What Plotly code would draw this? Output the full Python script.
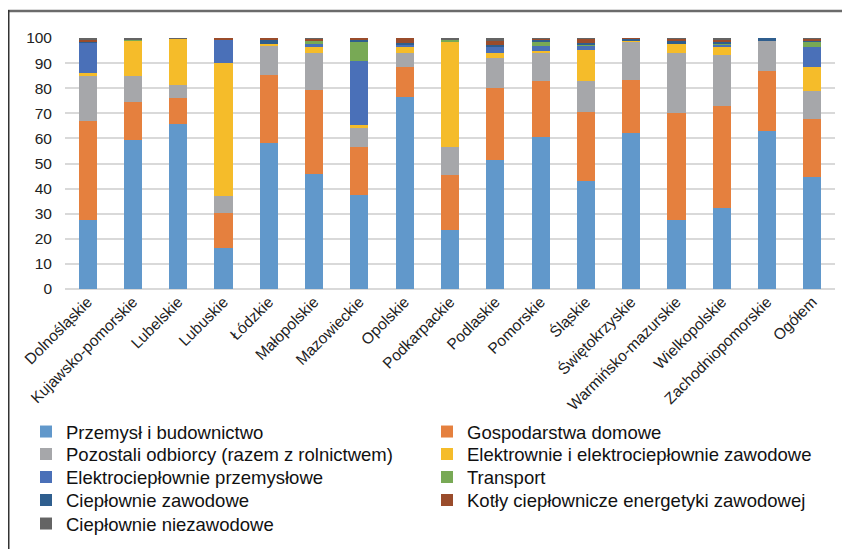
import plotly.graph_objects as go

categories = ["Dolnośląskie", "Kujawsko-pomorskie", "Lubelskie", "Lubuskie", "Łódzkie",
              "Małopolskie", "Mazowieckie", "Opolskie", "Podkarpackie", "Podlaskie",
              "Pomorskie", "Śląskie", "Świętokrzyskie", "Warmińsko-mazurskie",
              "Wielkopolskie", "Zachodniopomorskie", "Ogółem"]

przemysl =      [27.3, 59.3, 65.6, 16.4, 58.1, 45.7, 37.6, 76.5, 23.6, 51.3, 60.4, 43.1, 62.3, 27.3, 32.1, 62.9, 44.5]
gospodarstwa =  [39.5, 15.2, 10.3, 14.0, 27.1, 33.4, 19.1, 11.9, 21.7, 28.7, 22.5, 27.4, 21.0, 42.7, 40.7, 24.0, 23.2]
pozostali =     [18.0, 10.3,  5.4,  6.5, 12.0, 14.9,  7.3,  5.6, 11.4, 12.0, 11.2, 12.4, 15.4, 23.9, 20.4, 11.9, 11.0]
elektrownie =   [ 1.1, 14.1, 18.3, 53.0,  0.4,  2.8,  1.5,  2.8, 42.0,  2.1,  0.6, 12.2,  0.4,  3.8,  3.6,  0.0,  9.7]
elektro_przem = [12.2,  0.0,  0.0,  9.4,  0.0,  0.7, 25.3,  0.7,  0.0,  2.7,  2.1,  1.7,  0.0,  0.0,  0.3,  0.0,  8.0]
transport =     [ 0.0,  0.2,  0.3,  0.0,  0.0,  1.7,  7.9,  0.0,  0.4,  0.0,  1.5,  0.8,  0.0,  0.0,  0.8,  0.0,  2.3]
cieplownie_z =  [ 0.4,  0.0,  0.0,  0.0,  1.5,  0.0,  0.4,  0.6,  0.0,  0.4,  1.0,  0.5,  0.6,  1.4,  0.4,  1.2,  0.5]
kotly =         [ 0.8,  0.0,  0.0,  0.7,  0.9,  0.5,  0.9,  1.9,  0.0,  1.6,  0.5,  1.5,  0.3,  0.5,  1.0,  0.0,  0.5]
cieplownie_nz = [ 0.7,  0.9,  0.1,  0.0,  0.0,  0.3,  0.0,  0.0,  0.9,  1.2,  0.2,  0.4,  0.0,  0.4,  0.7,  0.0,  0.3]

series_names = ["Przemysł i budownictwo", "Gospodarstwa domowe",
                "Pozostali odbiorcy (razem z rolnictwem)", "Elektrownie i elektrociepłownie zawodowe",
                "Elektrociepłownie przemysłowe", "Transport",
                "Ciepłownie zawodowe", "Kotły ciepłownicze energetyki zawodowej",
                "Ciepłownie niezawodowe"]
series_values = [przemysl, gospodarstwa, pozostali, elektrownie, elektro_przem,
                 transport, cieplownie_z, kotly, cieplownie_nz]
colors = ["#6198CB", "#E5803E", "#A6A7AA", "#F5BC2A", "#4A70B8",
          "#78A955", "#2F5E8E", "#9A4C2B", "#646464"]

FONT = "Liberation Sans, Arial, sans-serif"

# figure is drawn inside the page's 8px body margin
W, H = 842, 541
L, R, T, B = 57, 15, 30, 260
pw, ph = W - L - R, H - T - B

def px_x(x):
    return (x - L) / pw

def px_y(y):
    return (H - B - y) / ph

# legend rows (two entries per row), each its own legend for exact row spacing
row_centers = [424, 446.5, 469.5, 492.5, 516]
legend_ids = ["legend", "legend2", "legend3", "legend4", "legend5"]

fig = go.Figure()
for i, (name, vals, col) in enumerate(zip(series_names, series_values, colors)):
    fig.add_trace(go.Bar(x=categories, y=vals, name=name,
                         legend=legend_ids[i // 2],
                         marker=dict(color=col, line=dict(width=0))))

legend_common = dict(orientation="h", xref="paper", yref="paper",
                     x=px_x(18), xanchor="left", yanchor="middle",
                     entrywidth=356, entrywidthmode="pixels",
                     font=dict(size=18.5, family=FONT, color="#111111"),
                     itemwidth=30, traceorder="normal", bgcolor="rgba(0,0,0,0)")

legend_layout = {}
for lid, yc in zip(legend_ids, row_centers):
    d = dict(legend_common)
    d["y"] = px_y(yc)
    legend_layout[lid] = d

fig.update_layout(
    width=W, height=H,
    margin=dict(l=L, r=R, t=T, b=B, autoexpand=False),
    barmode="stack",
    bargap=0.6,
    paper_bgcolor="white",
    plot_bgcolor="white",
    font=dict(family=FONT, color="#222222"),
    xaxis=dict(tickangle=-45, tickfont=dict(size=15.5, family=FONT),
               showgrid=False, showline=False, ticks="", automargin=False),
    yaxis=dict(range=[0, 100], dtick=10, tickfont=dict(size=15.5, family=FONT),
               showgrid=True, gridcolor="#D9D9D9", gridwidth=1.5,
               zeroline=True, zerolinecolor="#D9D9D9", zerolinewidth=1.5,
               ticks="", ticklabelstandoff=12, automargin=False),
    showlegend=True,
    shapes=[
        dict(type="line", xref="paper", yref="paper",
             x0=px_x(0), x1=px_x(W + 2), y0=px_y(3), y1=px_y(3),
             line=dict(color="#6B6B6B", width=2.5)),
        dict(type="line", xref="paper", yref="paper",
             x0=px_x(0.75), x1=px_x(0.75), y0=px_y(2), y1=px_y(H + 2),
             line=dict(color="#333333", width=1.5)),
    ],
    **legend_layout,
)

fig.write_html("out.html")
